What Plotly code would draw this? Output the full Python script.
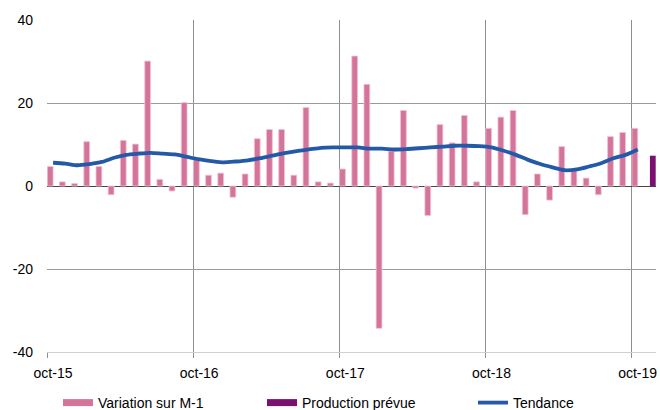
import plotly.graph_objects as go

# ---- data ----
n_months = 50  # oct-15 .. nov-19
month_index = list(range(n_months))
tick_labels = ["oct-15", "oct-16", "oct-17", "oct-18", "oct-19"]
tick_positions = [-0.5, 11.5, 23.5, 35.5, 47.5]
y_ticks = [-40, -20, 0, 20, 40]
y_tick_labels = ["-40", "-20", "0", "20", "40"]

variation = [4.7, 1.0, 0.6, 10.7, 4.7, -2.1, 11.0, 10.1, 30.1, 1.6, -1.2, 20.1,
             6.9, 2.6, 3.1, -2.7, 2.9, 11.4, 13.6, 13.6, 2.6, 18.9, 1.0, 0.7,
             4.1, 31.3, 24.5, -34.3, 8.4, 18.2, -0.5, -7.1, 14.8, 10.4, 17.0, 1.0,
             13.9, 16.6, 18.2, -6.9, 2.9, -3.4, 9.5, 3.7, 1.9, -2.1, 11.9, 12.9,
             13.9, None]

production = [None] * 49 + [7.3]

tendance = [5.6, 5.4, 5.0, 5.3, 5.8, 6.8, 7.5, 7.8, 8.0, 7.8, 7.6, 7.0,
            6.4, 6.0, 5.7, 5.9, 6.2, 6.7, 7.3, 7.9, 8.4, 8.8, 9.2, 9.3,
            9.3, 9.3, 9.0, 9.0, 8.8, 8.9, 9.1, 9.3, 9.5, 9.7, 9.7, 9.6,
            9.3, 8.5, 7.5, 6.3, 5.3, 4.5, 3.8, 4.0, 4.7, 5.5, 6.7, 7.5,
            8.8, None]

PINK = "#D4749A"
PINK_EDGE = "#F0C4D4"
PURPLE = "#7B1070"
BLUE = "#2459A8"
FONT = "Liberation Sans, Arial, sans-serif"

fig = go.Figure()
fig.add_trace(go.Bar(x=month_index, y=variation, name="Variation sur M-1",
                     marker=dict(color=PINK, line=dict(color=PINK_EDGE, width=0.8)),
                     showlegend=False))
fig.add_trace(go.Bar(x=month_index, y=production, name="Production prévue",
                     marker=dict(color=PURPLE, line=dict(width=0)),
                     showlegend=False))
fig.add_trace(go.Scatter(x=month_index, y=tendance, name="Tendance", mode="lines",
                         line=dict(color=BLUE, width=3.8, shape="spline", smoothing=0.8),
                         showlegend=False))

# legend entries (symbols only), one legend each for exact placement
fig.add_trace(go.Scatter(x=[None], y=[None], mode="lines", name="Variation sur M-1",
                         line=dict(color=PINK, width=7), legend="legend"))
fig.add_trace(go.Scatter(x=[None], y=[None], mode="lines", name="Production prévue",
                         line=dict(color=PURPLE, width=7), legend="legend2"))
fig.add_trace(go.Scatter(x=[None], y=[None], mode="lines", name="Tendance",
                         line=dict(color=BLUE, width=3.8), legend="legend3"))

def legend_at(px):
    return dict(orientation="h", xref="container", yref="container",
                x=px / 660, y=7 / 410, xanchor="left", yanchor="middle",
                font=dict(size=14), itemwidth=30, bgcolor="rgba(0,0,0,0)")

fig.update_layout(
    width=660, height=410,
    margin=dict(l=47, r=4, t=20, b=58, autoexpand=False),
    paper_bgcolor="white", plot_bgcolor="white",
    font=dict(family=FONT, size=14, color="#000"),
    barmode="group", bargap=0.05, bargroupgap=0,
    legend=legend_at(58), legend2=legend_at(262), legend3=legend_at(473),
    xaxis=dict(range=[-0.5, 49.5], tickmode="array", tickvals=tick_positions,
               ticktext=tick_labels, ticklabelshift=6, ticklabelstandoff=3,
               showgrid=True, automargin=False,
               gridcolor="#8f8f8f", gridwidth=1, zeroline=False,
               ticks="outside", ticklen=5, tickcolor="#8f8f8f",
               showline=True, linecolor="#d0d0d0", linewidth=1,
               tickfont=dict(size=14)),
    yaxis=dict(range=[-40, 40], tickmode="array", tickvals=y_ticks,
               ticktext=y_tick_labels,
               showgrid=True, gridcolor="#9a9a9a", gridwidth=1.3, automargin=False,
               zeroline=True, zerolinecolor="#444", zerolinewidth=1.3,
               ticks="", ticklabelstandoff=13, tickfont=dict(size=14)),
)

fig.write_html("out.html", config={"displayModeBar": False},
               post_script="document.body.style.margin='0';document.body.style.overflow='hidden';")
